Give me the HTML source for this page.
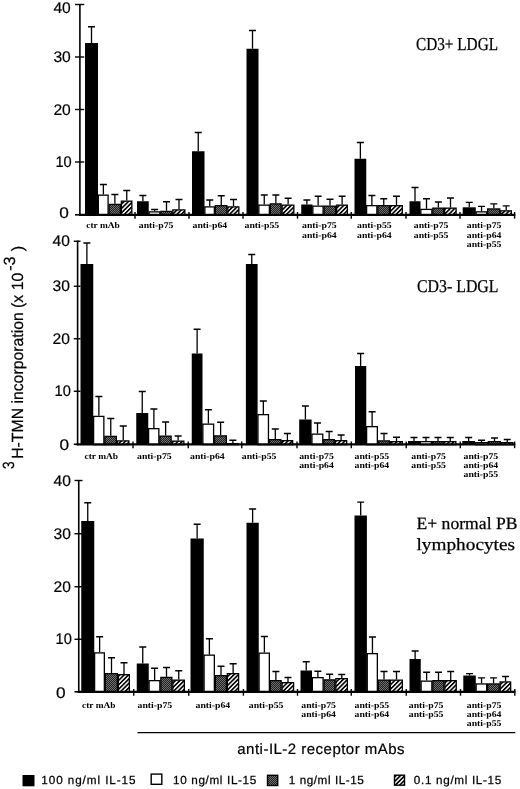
<!DOCTYPE html>
<html lang="en"><head><meta charset="utf-8"><title>IL-15 proliferation figure</title>
<style>
html,body{margin:0;padding:0;background:#fff}
body{width:520px;height:789px;overflow:hidden}
svg{display:block;filter:blur(0.35px)}
text{fill:#000;text-rendering:geometricPrecision}
.yl{font-family:"Liberation Sans",sans-serif;font-size:15.4px;stroke:#000;stroke-width:0.2px}
.xl{font-family:"Liberation Serif",serif;font-weight:bold;font-size:8.7px}
.ti{font-family:"Liberation Serif",serif;stroke:#000;stroke-width:0.25px}
.ya{font-family:"Liberation Sans",sans-serif;font-size:16.2px;stroke:#000;stroke-width:0.2px}
.cap{font-family:"Liberation Sans",sans-serif;font-size:15px;stroke:#000;stroke-width:0.2px}
.lg{font-family:"Liberation Sans",sans-serif;font-size:11.7px;stroke:#000;stroke-width:0.25px}
</style></head><body>
<svg width="520" height="789" viewBox="0 0 520 789">
<defs>
<pattern id="ht" width="3.1" height="3.1" patternUnits="userSpaceOnUse" patternTransform="rotate(-45)">
<rect width="3.1" height="3.1" fill="#fff"/><rect width="3.1" height="1.65" fill="#000"/></pattern>
<pattern id="gy" width="2" height="2" patternUnits="userSpaceOnUse">
<rect width="2" height="2" fill="#202020"/><rect width="1" height="1" fill="#707070"/><rect x="1" y="1" width="1" height="1" fill="#707070"/></pattern>
</defs>
<rect width="520" height="789" fill="#fff"/>
<g>
<path d="M91.50 43.00V26.75M88.00 26.75H95.00" stroke="#000" stroke-width="1.3" fill="none"/>
<rect x="85.00" y="43.00" width="13.00" height="171.50" fill="#000"/>
<path d="M103.38 194.50V184.50M99.88 184.50H106.88" stroke="#000" stroke-width="1.3" fill="none"/>
<rect x="98.35" y="195.15" width="9.75" height="20.00" fill="#fff" stroke="#000" stroke-width="1.3"/>
<path d="M114.88 203.75V194.50M111.38 194.50H118.38" stroke="#000" stroke-width="1.3" fill="none"/>
<rect x="109.10" y="204.40" width="11.25" height="10.75" fill="url(#gy)" stroke="#000" stroke-width="1.3"/>
<path d="M126.75 200.50V190.50M123.25 190.50H130.25" stroke="#000" stroke-width="1.3" fill="none"/>
<rect x="121.35" y="201.15" width="10.50" height="14.00" fill="url(#ht)" stroke="#000" stroke-width="1.3"/>
<path d="M142.88 201.25V195.50M139.38 195.50H146.38" stroke="#000" stroke-width="1.3" fill="none"/>
<rect x="137.00" y="201.25" width="11.75" height="13.25" fill="#000"/>
<path d="M154.62 211.25V209.50M151.12 209.50H158.12" stroke="#000" stroke-width="1.3" fill="none"/>
<rect x="149.10" y="211.90" width="10.75" height="3.25" fill="#fff" stroke="#000" stroke-width="1.3"/>
<path d="M166.50 210.75V201.75M163.00 201.75H170.00" stroke="#000" stroke-width="1.3" fill="none"/>
<rect x="160.85" y="211.40" width="11.00" height="3.75" fill="url(#gy)" stroke="#000" stroke-width="1.3"/>
<path d="M179.00 209.25V199.50M175.50 199.50H182.50" stroke="#000" stroke-width="1.3" fill="none"/>
<rect x="172.85" y="209.90" width="12.00" height="5.25" fill="url(#ht)" stroke="#000" stroke-width="1.3"/>
<path d="M198.25 151.25V132.50M194.75 132.50H201.75" stroke="#000" stroke-width="1.3" fill="none"/>
<rect x="192.00" y="151.25" width="12.50" height="63.25" fill="#000"/>
<path d="M209.75 206.25V200.00M206.25 200.00H213.25" stroke="#000" stroke-width="1.3" fill="none"/>
<rect x="204.85" y="206.90" width="9.50" height="8.25" fill="#fff" stroke="#000" stroke-width="1.3"/>
<path d="M221.25 205.00V195.75M217.75 195.75H224.75" stroke="#000" stroke-width="1.3" fill="none"/>
<rect x="215.35" y="205.65" width="11.50" height="9.50" fill="url(#gy)" stroke="#000" stroke-width="1.3"/>
<path d="M233.50 206.25V199.50M230.00 199.50H237.00" stroke="#000" stroke-width="1.3" fill="none"/>
<rect x="227.85" y="206.90" width="11.00" height="8.25" fill="url(#ht)" stroke="#000" stroke-width="1.3"/>
<path d="M252.50 48.75V30.50M249.00 30.50H256.00" stroke="#000" stroke-width="1.3" fill="none"/>
<rect x="246.50" y="48.75" width="12.00" height="165.75" fill="#000"/>
<path d="M264.25 204.50V195.00M260.75 195.00H267.75" stroke="#000" stroke-width="1.3" fill="none"/>
<rect x="258.85" y="205.15" width="10.50" height="10.00" fill="#fff" stroke="#000" stroke-width="1.3"/>
<path d="M275.88 203.25V195.00M272.38 195.00H279.38" stroke="#000" stroke-width="1.3" fill="none"/>
<rect x="270.35" y="203.90" width="10.75" height="11.25" fill="url(#gy)" stroke="#000" stroke-width="1.3"/>
<path d="M288.12 204.50V198.25M284.62 198.25H291.62" stroke="#000" stroke-width="1.3" fill="none"/>
<rect x="282.10" y="205.15" width="11.75" height="10.00" fill="url(#ht)" stroke="#000" stroke-width="1.3"/>
<path d="M306.88 204.50V200.00M303.38 200.00H310.38" stroke="#000" stroke-width="1.3" fill="none"/>
<rect x="301.25" y="204.50" width="11.25" height="10.00" fill="#000"/>
<path d="M318.12 205.50V196.25M314.62 196.25H321.62" stroke="#000" stroke-width="1.3" fill="none"/>
<rect x="312.85" y="206.15" width="10.25" height="9.00" fill="#fff" stroke="#000" stroke-width="1.3"/>
<path d="M330.00 205.50V199.25M326.50 199.25H333.50" stroke="#000" stroke-width="1.3" fill="none"/>
<rect x="324.10" y="206.15" width="11.50" height="9.00" fill="url(#gy)" stroke="#000" stroke-width="1.3"/>
<path d="M342.12 204.50V196.25M338.62 196.25H345.62" stroke="#000" stroke-width="1.3" fill="none"/>
<rect x="336.60" y="205.15" width="10.75" height="10.00" fill="url(#ht)" stroke="#000" stroke-width="1.3"/>
<path d="M360.38 158.75V142.50M356.88 142.50H363.88" stroke="#000" stroke-width="1.3" fill="none"/>
<rect x="354.50" y="158.75" width="11.75" height="55.75" fill="#000"/>
<path d="M371.88 205.00V195.50M368.38 195.50H375.38" stroke="#000" stroke-width="1.3" fill="none"/>
<rect x="366.60" y="205.65" width="10.25" height="9.50" fill="#fff" stroke="#000" stroke-width="1.3"/>
<path d="M383.75 205.00V198.75M380.25 198.75H387.25" stroke="#000" stroke-width="1.3" fill="none"/>
<rect x="377.85" y="205.65" width="11.50" height="9.50" fill="url(#gy)" stroke="#000" stroke-width="1.3"/>
<path d="M396.50 205.00V196.25M393.00 196.25H400.00" stroke="#000" stroke-width="1.3" fill="none"/>
<rect x="390.35" y="205.65" width="12.00" height="9.50" fill="url(#ht)" stroke="#000" stroke-width="1.3"/>
<path d="M415.00 201.25V187.50M411.50 187.50H418.50" stroke="#000" stroke-width="1.3" fill="none"/>
<rect x="409.50" y="201.25" width="11.00" height="13.25" fill="#000"/>
<path d="M426.50 208.75V198.75M423.00 198.75H430.00" stroke="#000" stroke-width="1.3" fill="none"/>
<rect x="420.85" y="209.40" width="11.00" height="5.75" fill="#fff" stroke="#000" stroke-width="1.3"/>
<path d="M438.38 207.50V202.00M434.88 202.00H441.88" stroke="#000" stroke-width="1.3" fill="none"/>
<rect x="432.85" y="208.15" width="10.75" height="7.00" fill="url(#gy)" stroke="#000" stroke-width="1.3"/>
<path d="M450.50 207.50V198.00M447.00 198.00H454.00" stroke="#000" stroke-width="1.3" fill="none"/>
<rect x="444.60" y="208.15" width="11.50" height="7.00" fill="url(#ht)" stroke="#000" stroke-width="1.3"/>
<path d="M469.25 207.30V202.30M465.75 202.30H472.75" stroke="#000" stroke-width="1.3" fill="none"/>
<rect x="462.70" y="207.30" width="13.10" height="7.20" fill="#000"/>
<path d="M481.55 211.20V206.30M478.05 206.30H485.05" stroke="#000" stroke-width="1.3" fill="none"/>
<rect x="476.15" y="211.85" width="10.50" height="3.30" fill="#fff" stroke="#000" stroke-width="1.3"/>
<path d="M493.85 208.30V203.80M490.35 203.80H497.35" stroke="#000" stroke-width="1.3" fill="none"/>
<rect x="487.65" y="208.95" width="12.10" height="6.20" fill="url(#gy)" stroke="#000" stroke-width="1.3"/>
<path d="M506.20 210.20V205.80M502.70 205.80H509.70" stroke="#000" stroke-width="1.3" fill="none"/>
<rect x="500.75" y="210.85" width="10.60" height="4.30" fill="url(#ht)" stroke="#000" stroke-width="1.3"/>
<path d="M79.90 4.00V215.70" stroke="#000" stroke-width="1.6" fill="none"/>
<path d="M79.00 214.80H515.3" stroke="#000" stroke-width="2.3" fill="none"/>
<path d="M75.00 4.50H84.20" stroke="#000" stroke-width="1.4"/>
<path d="M75.00 57.00H84.20" stroke="#000" stroke-width="1.4"/>
<path d="M75.00 109.50H84.20" stroke="#000" stroke-width="1.4"/>
<path d="M75.00 162.00H84.20" stroke="#000" stroke-width="1.4"/>
<path d="M75.00 214.80H79.90" stroke="#000" stroke-width="1.6"/>
<path d="M135.00 212.00V218.70" stroke="#000" stroke-width="1.4"/>
<path d="M189.00 212.00V218.70" stroke="#000" stroke-width="1.4"/>
<path d="M243.00 212.00V218.70" stroke="#000" stroke-width="1.4"/>
<path d="M297.50 212.00V218.70" stroke="#000" stroke-width="1.4"/>
<path d="M351.25 212.00V218.70" stroke="#000" stroke-width="1.4"/>
<path d="M406.00 212.00V218.70" stroke="#000" stroke-width="1.4"/>
<path d="M460.00 212.00V218.70" stroke="#000" stroke-width="1.4"/>
<path d="M514.60 212.00V218.70" stroke="#000" stroke-width="1.4"/>
<text x="53.40" y="12.70" class="yl" textLength="17.4" lengthAdjust="spacingAndGlyphs">40</text>
<text x="53.40" y="62.20" class="yl" textLength="17.4" lengthAdjust="spacingAndGlyphs">30</text>
<text x="53.40" y="114.70" class="yl" textLength="17.4" lengthAdjust="spacingAndGlyphs">20</text>
<text x="55.40" y="167.20" class="yl" textLength="16.3" lengthAdjust="spacingAndGlyphs">10</text>
<text x="59.30" y="218.20" class="yl" textLength="9.6" lengthAdjust="spacingAndGlyphs">0</text>
<text x="86.25" y="228.30" class="xl" textLength="33.5" lengthAdjust="spacingAndGlyphs">ctr mAb</text>
<text x="138.75" y="228.30" class="xl" textLength="34.7" lengthAdjust="spacingAndGlyphs">anti-p75</text>
<text x="192.50" y="228.30" class="xl" textLength="34.7" lengthAdjust="spacingAndGlyphs">anti-p64</text>
<text x="244.50" y="228.30" class="xl" textLength="34.7" lengthAdjust="spacingAndGlyphs">anti-p55</text>
<text x="302.00" y="228.30" class="xl" textLength="34.7" lengthAdjust="spacingAndGlyphs">anti-p75</text>
<text x="302.00" y="237.50" class="xl" textLength="34.7" lengthAdjust="spacingAndGlyphs">anti-p64</text>
<text x="357.00" y="228.30" class="xl" textLength="34.7" lengthAdjust="spacingAndGlyphs">anti-p55</text>
<text x="357.00" y="237.50" class="xl" textLength="34.7" lengthAdjust="spacingAndGlyphs">anti-p64</text>
<text x="413.75" y="228.30" class="xl" textLength="34.7" lengthAdjust="spacingAndGlyphs">anti-p75</text>
<text x="413.75" y="237.50" class="xl" textLength="34.7" lengthAdjust="spacingAndGlyphs">anti-p55</text>
<text x="466.75" y="228.30" class="xl" textLength="34.7" lengthAdjust="spacingAndGlyphs">anti-p75</text>
<text x="466.75" y="237.50" class="xl" textLength="34.7" lengthAdjust="spacingAndGlyphs">anti-p64</text>
<text x="466.75" y="246.50" class="xl" textLength="34.7" lengthAdjust="spacingAndGlyphs">anti-p55</text>
<text x="416" y="50" class="ti" font-size="18.2" textLength="82" lengthAdjust="spacingAndGlyphs">CD3+ LDGL</text>
</g>
<g>
<path d="M86.88 264.00V243.00M83.38 243.00H90.38" stroke="#000" stroke-width="1.3" fill="none"/>
<rect x="80.50" y="264.00" width="12.75" height="180.00" fill="#000"/>
<path d="M98.88 415.75V396.50M95.38 396.50H102.38" stroke="#000" stroke-width="1.3" fill="none"/>
<rect x="93.60" y="416.40" width="10.25" height="28.25" fill="#fff" stroke="#000" stroke-width="1.3"/>
<path d="M110.75 435.75V418.50M107.25 418.50H114.25" stroke="#000" stroke-width="1.3" fill="none"/>
<rect x="104.85" y="436.40" width="11.50" height="8.25" fill="url(#gy)" stroke="#000" stroke-width="1.3"/>
<path d="M123.25 440.25V426.00M119.75 426.00H126.75" stroke="#000" stroke-width="1.3" fill="none"/>
<rect x="117.35" y="440.90" width="11.50" height="3.75" fill="url(#ht)" stroke="#000" stroke-width="1.3"/>
<path d="M142.25 413.00V391.50M138.75 391.50H145.75" stroke="#000" stroke-width="1.3" fill="none"/>
<rect x="136.25" y="413.00" width="12.00" height="31.00" fill="#000"/>
<path d="M153.88 428.00V409.00M150.38 409.00H157.38" stroke="#000" stroke-width="1.3" fill="none"/>
<rect x="148.60" y="428.65" width="10.25" height="16.00" fill="#fff" stroke="#000" stroke-width="1.3"/>
<path d="M165.62 435.50V422.00M162.12 422.00H169.12" stroke="#000" stroke-width="1.3" fill="none"/>
<rect x="159.85" y="436.15" width="11.25" height="8.50" fill="url(#gy)" stroke="#000" stroke-width="1.3"/>
<path d="M178.12 440.50V436.00M174.62 436.00H181.62" stroke="#000" stroke-width="1.3" fill="none"/>
<rect x="172.10" y="441.15" width="11.75" height="3.50" fill="url(#ht)" stroke="#000" stroke-width="1.3"/>
<path d="M197.12 353.50V329.25M193.62 329.25H200.62" stroke="#000" stroke-width="1.3" fill="none"/>
<rect x="191.75" y="353.50" width="10.75" height="90.50" fill="#000"/>
<path d="M208.38 423.50V409.75M204.88 409.75H211.88" stroke="#000" stroke-width="1.3" fill="none"/>
<rect x="202.85" y="424.15" width="10.75" height="20.50" fill="#fff" stroke="#000" stroke-width="1.3"/>
<path d="M220.62 435.25V422.25M217.12 422.25H224.12" stroke="#000" stroke-width="1.3" fill="none"/>
<rect x="214.60" y="435.90" width="11.75" height="8.75" fill="url(#gy)" stroke="#000" stroke-width="1.3"/>
<path d="M232.88 443.00V440.25M229.38 440.25H236.38" stroke="#000" stroke-width="1.3" fill="none"/>
<rect x="227.35" y="443.65" width="10.75" height="1.00" fill="url(#ht)" stroke="#000" stroke-width="1.3"/>
<path d="M251.75 264.00V254.50M248.25 254.50H255.25" stroke="#000" stroke-width="1.3" fill="none"/>
<rect x="245.90" y="264.00" width="11.70" height="180.00" fill="#000"/>
<path d="M263.35 414.00V401.00M259.85 401.00H266.85" stroke="#000" stroke-width="1.3" fill="none"/>
<rect x="257.95" y="414.65" width="10.50" height="30.00" fill="#fff" stroke="#000" stroke-width="1.3"/>
<path d="M275.30 439.00V429.00M271.80 429.00H278.80" stroke="#000" stroke-width="1.3" fill="none"/>
<rect x="269.45" y="439.65" width="11.40" height="5.00" fill="url(#gy)" stroke="#000" stroke-width="1.3"/>
<path d="M287.40 440.00V433.50M283.90 433.50H290.90" stroke="#000" stroke-width="1.3" fill="none"/>
<rect x="281.85" y="440.65" width="10.80" height="4.00" fill="url(#ht)" stroke="#000" stroke-width="1.3"/>
<path d="M305.40 419.50V406.00M301.90 406.00H308.90" stroke="#000" stroke-width="1.3" fill="none"/>
<rect x="299.20" y="419.50" width="12.40" height="24.50" fill="#000"/>
<path d="M317.50 433.50V423.00M314.00 423.00H321.00" stroke="#000" stroke-width="1.3" fill="none"/>
<rect x="311.95" y="434.15" width="10.80" height="10.50" fill="#fff" stroke="#000" stroke-width="1.3"/>
<path d="M329.15 439.00V431.50M325.65 431.50H332.65" stroke="#000" stroke-width="1.3" fill="none"/>
<rect x="323.75" y="439.65" width="10.50" height="5.00" fill="url(#gy)" stroke="#000" stroke-width="1.3"/>
<path d="M341.10 440.00V435.00M337.60 435.00H344.60" stroke="#000" stroke-width="1.3" fill="none"/>
<rect x="335.25" y="440.65" width="11.40" height="4.00" fill="url(#ht)" stroke="#000" stroke-width="1.3"/>
<path d="M360.62 366.00V353.50M357.12 353.50H364.12" stroke="#000" stroke-width="1.3" fill="none"/>
<rect x="355.00" y="366.00" width="11.25" height="78.00" fill="#000"/>
<path d="M372.12 426.00V411.75M368.62 411.75H375.62" stroke="#000" stroke-width="1.3" fill="none"/>
<rect x="366.60" y="426.65" width="10.75" height="18.00" fill="#fff" stroke="#000" stroke-width="1.3"/>
<path d="M384.00 440.25V433.50M380.50 433.50H387.50" stroke="#000" stroke-width="1.3" fill="none"/>
<rect x="378.35" y="440.90" width="11.00" height="3.75" fill="url(#gy)" stroke="#000" stroke-width="1.3"/>
<path d="M396.50 441.00V437.25M393.00 437.25H400.00" stroke="#000" stroke-width="1.3" fill="none"/>
<rect x="390.35" y="441.65" width="12.00" height="3.00" fill="url(#ht)" stroke="#000" stroke-width="1.3"/>
<path d="M414.00 441.00V437.50M410.50 437.50H417.50" stroke="#000" stroke-width="1.3" fill="none"/>
<rect x="408.00" y="441.00" width="12.00" height="3.00" fill="#000"/>
<path d="M426.00 441.00V437.50M422.50 437.50H429.50" stroke="#000" stroke-width="1.3" fill="none"/>
<rect x="420.35" y="441.65" width="11.00" height="3.00" fill="#fff" stroke="#000" stroke-width="1.3"/>
<path d="M438.00 441.00V437.50M434.50 437.50H441.50" stroke="#000" stroke-width="1.3" fill="none"/>
<rect x="432.35" y="441.65" width="11.00" height="3.00" fill="url(#gy)" stroke="#000" stroke-width="1.3"/>
<path d="M450.25 441.00V437.50M446.75 437.50H453.75" stroke="#000" stroke-width="1.3" fill="none"/>
<rect x="444.35" y="441.65" width="11.50" height="3.00" fill="url(#ht)" stroke="#000" stroke-width="1.3"/>
<path d="M468.65 441.00V437.50M465.15 437.50H472.15" stroke="#000" stroke-width="1.3" fill="none"/>
<rect x="462.30" y="441.00" width="12.70" height="3.00" fill="#000"/>
<path d="M481.50 442.00V440.25M478.00 440.25H485.00" stroke="#000" stroke-width="1.3" fill="none"/>
<rect x="475.35" y="442.65" width="12.00" height="2.00" fill="#fff" stroke="#000" stroke-width="1.3"/>
<path d="M494.50 441.00V438.00M491.00 438.00H498.00" stroke="#000" stroke-width="1.3" fill="none"/>
<rect x="488.35" y="441.65" width="12.00" height="3.00" fill="url(#gy)" stroke="#000" stroke-width="1.3"/>
<path d="M507.25 442.00V439.50M503.75 439.50H510.75" stroke="#000" stroke-width="1.3" fill="none"/>
<rect x="501.35" y="442.65" width="11.50" height="2.00" fill="url(#ht)" stroke="#000" stroke-width="1.3"/>
<path d="M77.60 240.50V445.20" stroke="#000" stroke-width="1.6" fill="none"/>
<path d="M76.70 444.30H515.3" stroke="#000" stroke-width="2.3" fill="none"/>
<path d="M73.75 241.25H80.50" stroke="#000" stroke-width="1.4"/>
<path d="M73.75 286.25H80.50" stroke="#000" stroke-width="1.4"/>
<path d="M73.75 338.75H80.50" stroke="#000" stroke-width="1.4"/>
<path d="M73.75 391.25H80.50" stroke="#000" stroke-width="1.4"/>
<path d="M73.75 444.30H77.60" stroke="#000" stroke-width="1.6"/>
<path d="M133.00 441.50V448.20" stroke="#000" stroke-width="1.4"/>
<path d="M188.25 441.50V448.20" stroke="#000" stroke-width="1.4"/>
<path d="M241.75 441.50V448.20" stroke="#000" stroke-width="1.4"/>
<path d="M297.00 441.50V448.20" stroke="#000" stroke-width="1.4"/>
<path d="M351.30 441.50V448.20" stroke="#000" stroke-width="1.4"/>
<path d="M406.20 441.50V448.20" stroke="#000" stroke-width="1.4"/>
<path d="M460.30 441.50V448.20" stroke="#000" stroke-width="1.4"/>
<path d="M514.60 441.50V448.20" stroke="#000" stroke-width="1.4"/>
<text x="52.60" y="246.45" class="yl" textLength="17.4" lengthAdjust="spacingAndGlyphs">40</text>
<text x="52.60" y="291.45" class="yl" textLength="17.4" lengthAdjust="spacingAndGlyphs">30</text>
<text x="52.60" y="343.95" class="yl" textLength="17.4" lengthAdjust="spacingAndGlyphs">20</text>
<text x="54.60" y="396.45" class="yl" textLength="16.3" lengthAdjust="spacingAndGlyphs">10</text>
<text x="59.60" y="450.20" class="yl" textLength="9.6" lengthAdjust="spacingAndGlyphs">0</text>
<text x="84.50" y="459.30" class="xl" textLength="33.5" lengthAdjust="spacingAndGlyphs">ctr mAb</text>
<text x="137.00" y="459.30" class="xl" textLength="34.7" lengthAdjust="spacingAndGlyphs">anti-p75</text>
<text x="190.00" y="459.30" class="xl" textLength="34.7" lengthAdjust="spacingAndGlyphs">anti-p64</text>
<text x="241.80" y="459.30" class="xl" textLength="34.7" lengthAdjust="spacingAndGlyphs">anti-p55</text>
<text x="299.20" y="459.30" class="xl" textLength="34.7" lengthAdjust="spacingAndGlyphs">anti-p75</text>
<text x="299.20" y="468.30" class="xl" textLength="34.7" lengthAdjust="spacingAndGlyphs">anti-p64</text>
<text x="354.50" y="459.30" class="xl" textLength="34.7" lengthAdjust="spacingAndGlyphs">anti-p55</text>
<text x="354.50" y="468.30" class="xl" textLength="34.7" lengthAdjust="spacingAndGlyphs">anti-p64</text>
<text x="411.25" y="459.30" class="xl" textLength="34.7" lengthAdjust="spacingAndGlyphs">anti-p75</text>
<text x="411.25" y="468.30" class="xl" textLength="34.7" lengthAdjust="spacingAndGlyphs">anti-p55</text>
<text x="463.50" y="459.30" class="xl" textLength="34.7" lengthAdjust="spacingAndGlyphs">anti-p75</text>
<text x="463.50" y="468.30" class="xl" textLength="34.7" lengthAdjust="spacingAndGlyphs">anti-p64</text>
<text x="463.50" y="477.30" class="xl" textLength="34.7" lengthAdjust="spacingAndGlyphs">anti-p55</text>
<text x="417" y="291.8" class="ti" font-size="18.0" textLength="81.5" lengthAdjust="spacingAndGlyphs">CD3- LDGL</text>
</g>
<g>
<path d="M87.75 521.00V502.75M84.25 502.75H91.25" stroke="#000" stroke-width="1.3" fill="none"/>
<rect x="81.25" y="521.00" width="13.00" height="170.50" fill="#000"/>
<path d="M99.62 652.25V636.75M96.12 636.75H103.12" stroke="#000" stroke-width="1.3" fill="none"/>
<rect x="94.60" y="652.90" width="9.75" height="39.25" fill="#fff" stroke="#000" stroke-width="1.3"/>
<path d="M111.50 673.00V657.75M108.00 657.75H115.00" stroke="#000" stroke-width="1.3" fill="none"/>
<rect x="105.35" y="673.65" width="12.00" height="18.50" fill="url(#gy)" stroke="#000" stroke-width="1.3"/>
<path d="M124.00 674.00V662.75M120.50 662.75H127.50" stroke="#000" stroke-width="1.3" fill="none"/>
<rect x="118.35" y="674.65" width="11.00" height="17.50" fill="url(#ht)" stroke="#000" stroke-width="1.3"/>
<path d="M142.75 663.50V647.00M139.25 647.00H146.25" stroke="#000" stroke-width="1.3" fill="none"/>
<rect x="136.75" y="663.50" width="12.00" height="28.00" fill="#000"/>
<path d="M154.62 680.00V668.25M151.12 668.25H158.12" stroke="#000" stroke-width="1.3" fill="none"/>
<rect x="149.10" y="680.65" width="10.75" height="11.50" fill="#fff" stroke="#000" stroke-width="1.3"/>
<path d="M166.50 676.75V667.50M163.00 667.50H170.00" stroke="#000" stroke-width="1.3" fill="none"/>
<rect x="160.85" y="677.40" width="11.00" height="14.75" fill="url(#gy)" stroke="#000" stroke-width="1.3"/>
<path d="M178.75 679.50V670.75M175.25 670.75H182.25" stroke="#000" stroke-width="1.3" fill="none"/>
<rect x="172.85" y="680.15" width="11.50" height="12.00" fill="url(#ht)" stroke="#000" stroke-width="1.3"/>
<path d="M197.12 538.50V524.25M193.62 524.25H200.62" stroke="#000" stroke-width="1.3" fill="none"/>
<rect x="190.50" y="538.50" width="13.25" height="153.00" fill="#000"/>
<path d="M209.38 654.50V638.75M205.88 638.75H212.88" stroke="#000" stroke-width="1.3" fill="none"/>
<rect x="204.10" y="655.15" width="10.25" height="37.00" fill="#fff" stroke="#000" stroke-width="1.3"/>
<path d="M221.00 675.00V666.25M217.50 666.25H224.50" stroke="#000" stroke-width="1.3" fill="none"/>
<rect x="215.35" y="675.65" width="11.00" height="16.50" fill="url(#gy)" stroke="#000" stroke-width="1.3"/>
<path d="M233.12 673.00V663.75M229.62 663.75H236.62" stroke="#000" stroke-width="1.3" fill="none"/>
<rect x="227.35" y="673.65" width="11.25" height="18.50" fill="url(#ht)" stroke="#000" stroke-width="1.3"/>
<path d="M252.62 522.75V509.00M249.12 509.00H256.12" stroke="#000" stroke-width="1.3" fill="none"/>
<rect x="246.50" y="522.75" width="12.25" height="168.75" fill="#000"/>
<path d="M264.38 652.50V636.50M260.88 636.50H267.88" stroke="#000" stroke-width="1.3" fill="none"/>
<rect x="259.10" y="653.15" width="10.25" height="39.00" fill="#fff" stroke="#000" stroke-width="1.3"/>
<path d="M275.88 680.00V671.50M272.38 671.50H279.38" stroke="#000" stroke-width="1.3" fill="none"/>
<rect x="270.35" y="680.65" width="10.75" height="11.50" fill="url(#gy)" stroke="#000" stroke-width="1.3"/>
<path d="M288.00 682.00V677.50M284.50 677.50H291.50" stroke="#000" stroke-width="1.3" fill="none"/>
<rect x="282.10" y="682.65" width="11.50" height="9.50" fill="url(#ht)" stroke="#000" stroke-width="1.3"/>
<path d="M306.25 670.50V661.75M302.75 661.75H309.75" stroke="#000" stroke-width="1.3" fill="none"/>
<rect x="300.50" y="670.50" width="11.50" height="21.00" fill="#000"/>
<path d="M317.88 677.00V671.25M314.38 671.25H321.38" stroke="#000" stroke-width="1.3" fill="none"/>
<rect x="312.35" y="677.65" width="10.75" height="14.50" fill="#fff" stroke="#000" stroke-width="1.3"/>
<path d="M329.62 679.25V674.25M326.12 674.25H333.12" stroke="#000" stroke-width="1.3" fill="none"/>
<rect x="324.10" y="679.90" width="10.75" height="12.25" fill="url(#gy)" stroke="#000" stroke-width="1.3"/>
<path d="M341.75 678.00V674.50M338.25 674.50H345.25" stroke="#000" stroke-width="1.3" fill="none"/>
<rect x="335.85" y="678.65" width="11.50" height="13.50" fill="url(#ht)" stroke="#000" stroke-width="1.3"/>
<path d="M360.70 515.50V502.10M357.20 502.10H364.20" stroke="#000" stroke-width="1.3" fill="none"/>
<rect x="354.50" y="515.50" width="12.40" height="176.00" fill="#000"/>
<path d="M372.45 653.00V637.00M368.95 637.00H375.95" stroke="#000" stroke-width="1.3" fill="none"/>
<rect x="367.25" y="653.65" width="10.10" height="38.50" fill="#fff" stroke="#000" stroke-width="1.3"/>
<path d="M384.00 679.50V671.50M380.50 671.50H387.50" stroke="#000" stroke-width="1.3" fill="none"/>
<rect x="378.35" y="680.15" width="11.00" height="12.00" fill="url(#gy)" stroke="#000" stroke-width="1.3"/>
<path d="M396.50 679.50V671.50M393.00 671.50H400.00" stroke="#000" stroke-width="1.3" fill="none"/>
<rect x="390.35" y="680.15" width="12.00" height="12.00" fill="url(#ht)" stroke="#000" stroke-width="1.3"/>
<path d="M415.12 659.00V651.00M411.62 651.00H418.62" stroke="#000" stroke-width="1.3" fill="none"/>
<rect x="409.50" y="659.00" width="11.25" height="32.50" fill="#000"/>
<path d="M426.62 680.50V672.25M423.12 672.25H430.12" stroke="#000" stroke-width="1.3" fill="none"/>
<rect x="421.10" y="681.15" width="10.75" height="11.00" fill="#fff" stroke="#000" stroke-width="1.3"/>
<path d="M438.50 680.00V672.25M435.00 672.25H442.00" stroke="#000" stroke-width="1.3" fill="none"/>
<rect x="432.85" y="680.65" width="11.00" height="11.50" fill="url(#gy)" stroke="#000" stroke-width="1.3"/>
<path d="M450.70 680.00V671.50M447.20 671.50H454.20" stroke="#000" stroke-width="1.3" fill="none"/>
<rect x="444.85" y="680.65" width="11.40" height="11.50" fill="url(#ht)" stroke="#000" stroke-width="1.3"/>
<path d="M469.55 675.50V673.70M466.05 673.70H473.05" stroke="#000" stroke-width="1.3" fill="none"/>
<rect x="463.30" y="675.50" width="12.50" height="16.00" fill="#000"/>
<path d="M481.55 683.30V677.90M478.05 677.90H485.05" stroke="#000" stroke-width="1.3" fill="none"/>
<rect x="476.15" y="683.95" width="10.50" height="8.20" fill="#fff" stroke="#000" stroke-width="1.3"/>
<path d="M493.55 683.30V677.90M490.05 677.90H497.05" stroke="#000" stroke-width="1.3" fill="none"/>
<rect x="487.65" y="683.95" width="11.50" height="8.20" fill="url(#gy)" stroke="#000" stroke-width="1.3"/>
<path d="M505.55 681.30V676.50M502.05 676.50H509.05" stroke="#000" stroke-width="1.3" fill="none"/>
<rect x="500.15" y="681.95" width="10.50" height="10.20" fill="url(#ht)" stroke="#000" stroke-width="1.3"/>
<path d="M78.75 480.00V692.70" stroke="#000" stroke-width="1.6" fill="none"/>
<path d="M77.85 691.80H515.3" stroke="#000" stroke-width="2.3" fill="none"/>
<path d="M74.50 480.50H82.50" stroke="#000" stroke-width="1.4"/>
<path d="M74.50 533.75H82.50" stroke="#000" stroke-width="1.4"/>
<path d="M74.50 586.75H82.50" stroke="#000" stroke-width="1.4"/>
<path d="M74.50 639.25H82.50" stroke="#000" stroke-width="1.4"/>
<path d="M74.50 691.80H78.75" stroke="#000" stroke-width="1.6"/>
<path d="M133.75 689.00V695.70" stroke="#000" stroke-width="1.4"/>
<path d="M188.75 689.00V695.70" stroke="#000" stroke-width="1.4"/>
<path d="M243.40 689.00V695.70" stroke="#000" stroke-width="1.4"/>
<path d="M297.50 689.00V695.70" stroke="#000" stroke-width="1.4"/>
<path d="M351.25 689.00V695.70" stroke="#000" stroke-width="1.4"/>
<path d="M406.25 689.00V695.70" stroke="#000" stroke-width="1.4"/>
<path d="M460.50 689.00V695.70" stroke="#000" stroke-width="1.4"/>
<path d="M514.80 689.00V695.70" stroke="#000" stroke-width="1.4"/>
<text x="53.50" y="485.70" class="yl" textLength="17.4" lengthAdjust="spacingAndGlyphs">40</text>
<text x="53.50" y="538.95" class="yl" textLength="17.4" lengthAdjust="spacingAndGlyphs">30</text>
<text x="53.50" y="591.95" class="yl" textLength="17.4" lengthAdjust="spacingAndGlyphs">20</text>
<text x="55.50" y="644.45" class="yl" textLength="16.3" lengthAdjust="spacingAndGlyphs">10</text>
<text x="56.10" y="698.20" class="yl" textLength="9.6" lengthAdjust="spacingAndGlyphs">0</text>
<text x="82.00" y="707.50" class="xl" textLength="33.5" lengthAdjust="spacingAndGlyphs">ctr mAb</text>
<text x="137.50" y="707.50" class="xl" textLength="34.7" lengthAdjust="spacingAndGlyphs">anti-p75</text>
<text x="195.50" y="707.50" class="xl" textLength="34.7" lengthAdjust="spacingAndGlyphs">anti-p64</text>
<text x="248.75" y="707.50" class="xl" textLength="34.7" lengthAdjust="spacingAndGlyphs">anti-p55</text>
<text x="301.25" y="707.50" class="xl" textLength="34.7" lengthAdjust="spacingAndGlyphs">anti-p75</text>
<text x="301.25" y="716.80" class="xl" textLength="34.7" lengthAdjust="spacingAndGlyphs">anti-p64</text>
<text x="354.50" y="707.50" class="xl" textLength="34.7" lengthAdjust="spacingAndGlyphs">anti-p55</text>
<text x="354.50" y="716.80" class="xl" textLength="34.7" lengthAdjust="spacingAndGlyphs">anti-p64</text>
<text x="408.75" y="707.50" class="xl" textLength="34.7" lengthAdjust="spacingAndGlyphs">anti-p75</text>
<text x="408.75" y="716.80" class="xl" textLength="34.7" lengthAdjust="spacingAndGlyphs">anti-p55</text>
<text x="466.75" y="707.50" class="xl" textLength="34.7" lengthAdjust="spacingAndGlyphs">anti-p75</text>
<text x="466.75" y="716.80" class="xl" textLength="34.7" lengthAdjust="spacingAndGlyphs">anti-p64</text>
<text x="466.75" y="725.80" class="xl" textLength="34.7" lengthAdjust="spacingAndGlyphs">anti-p55</text>
<text x="416.5" y="529.3" class="ti" font-size="17.2" textLength="101" lengthAdjust="spacingAndGlyphs">E+ normal PB</text>
<text x="416.5" y="550.4" class="ti" font-size="17.2" textLength="98.5" lengthAdjust="spacingAndGlyphs">lymphocytes</text>
</g>
<g transform="translate(22.8,458.8) rotate(-90)">
<text x="-10.2" y="-8.8" class="ya" textLength="7.6" lengthAdjust="spacingAndGlyphs">3</text>
<text x="0" y="0" class="ya" textLength="186" lengthAdjust="spacingAndGlyphs">H-TMN incorporation (x 10</text>
<text x="188" y="-7.4" class="ya" textLength="14.4" lengthAdjust="spacingAndGlyphs">-3</text>
<text x="207.6" y="0" class="ya">)</text>
</g>
<path d="M137.5 732.6H515.3" stroke="#000" stroke-width="1.4"/>
<text x="237.3" y="753.8" class="cap" textLength="167.3" lengthAdjust="spacing">anti-IL-2 receptor mAbs</text>
<rect x="22.5" y="775" width="12" height="11.3" fill="#000"/>
<text x="41.3" y="784.3" class="lg" textLength="94.2" lengthAdjust="spacing">100 ng/ml IL-15</text>
<rect x="151.2" y="774.1" width="10.6" height="10.2" fill="#fff" stroke="#000" stroke-width="1.4"/>
<text x="173" y="784.3" class="lg" textLength="83.3" lengthAdjust="spacing">10 ng/ml IL-15</text>
<rect x="267.5" y="775.3000000000001" width="10.2" height="10.2" fill="url(#gy)" stroke="#000" stroke-width="1.4"/>
<text x="288.8" y="784.3" class="lg" textLength="75" lengthAdjust="spacing">1 ng/ml IL-15</text>
<rect x="394.5" y="775.2" width="10.0" height="10.0" fill="url(#ht)" stroke="#000" stroke-width="1.4"/>
<text x="413.8" y="784.3" class="lg" textLength="87.5" lengthAdjust="spacing">0.1 ng/ml IL-15</text>
</svg>
</body></html>
